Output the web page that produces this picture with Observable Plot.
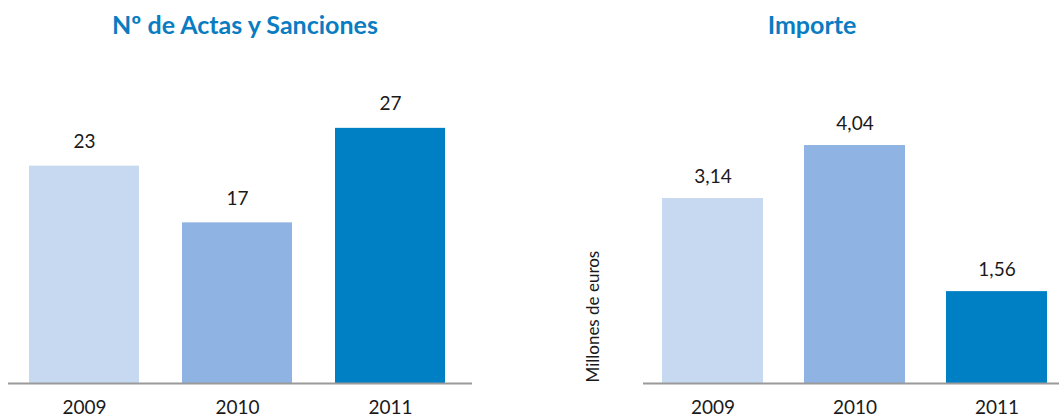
<!DOCTYPE html>
<html>
<head>
<meta charset="utf-8">
<script src="https://cdn.jsdelivr.net/npm/d3@7"></script>
<script src="https://cdn.jsdelivr.net/npm/@observablehq/plot@0.6"></script>
<style>
  body { margin: 0; background: #fff; font-family: Lato, "Open Sans", sans-serif; }
  #wrap { position: relative; width: 1059px; height: 419px; overflow: hidden; }
  .title { position: absolute; top: 9px; font-weight: bold; font-size: 25px; color: #0a7cc1; text-align: center; white-space: nowrap; }
  .panel { position: absolute; top: 0; }
</style>
</head>
<body>
<div id="wrap">
  <div class="panel" id="left" style="left:0px;"></div>
  <div class="panel" id="right" style="left:560px;"></div>
  <div class="title" style="left:45px;width:400px;">Nº de Actas y Sanciones</div>
  <div class="title" style="left:712px;width:200px;">Importe</div>
</div>
<script>
const years = ["2009", "2010", "2011"];
const actas = [23, 17, 27];
const importe = [3.14, 4.04, 1.56];
const barColors = ["#c7d9f0", "#8fb3e2", "#0080c4"];
const yLabel = "Millones de euros";

const leftData = years.map((y, i) => ({year: y, value: actas[i]}));
const rightData = years.map((y, i) => ({year: y, value: importe[i]}));

const common = {
  height: 419,
  marginBottom: 36,
  style: {fontFamily: "Lato, 'Open Sans', sans-serif", fontSize: "19px", color: "#1a1a1a", background: "transparent"},
  color: {domain: years, range: barColors}
};

const leftPlot = Plot.plot({
  ...common,
  width: 480,
  marginLeft: 8,
  marginRight: 8,
  marginTop: 99.5,
  x: {domain: years, paddingInner: 0.28, paddingOuter: 0.156, align: 0.44, label: null},
  y: {domain: [0, 30], axis: null},
  marks: [
    Plot.barY(leftData, {x: "year", y: "value", fill: "year"}),
    Plot.ruleY([0], {stroke: "#9a9a9a", strokeWidth: 2}),
    Plot.text(leftData, {x: "year", y: "value", text: d => String(d.value), dy: -24, fill: "#1a1a1a", fontSize: 19}),
    Plot.axisX({tickSize: 0, tickPadding: 17, label: null, fontSize: 19, fill: "#1a1a1a"})
  ]
});
document.getElementById("left").appendChild(leftPlot);

const rightPlot = Plot.plot({
  ...common,
  width: 499,
  marginLeft: 83,
  marginRight: 0,
  marginTop: 88.5,
  x: {domain: years, paddingInner: 0.286, paddingOuter: 0.1, align: 0.625, label: null},
  y: {domain: [0, 5], axis: null},
  marks: [
    Plot.barY(rightData, {x: "year", y: "value", fill: "year"}),
    Plot.ruleY([0], {stroke: "#9a9a9a", strokeWidth: 2}),
    Plot.text(rightData, {x: "year", y: "value", text: d => d.value.toFixed(2).replace(".", ","), dy: -22, fill: "#1a1a1a", fontSize: 19}),
    Plot.text([yLabel], {frameAnchor: "bottom-left", text: d => d, rotate: -90, textAnchor: "start", dx: -45, dy: -1, fontSize: 17, fill: "#1a1a1a"}),
    Plot.axisX({tickSize: 0, tickPadding: 17, label: null, fontSize: 19, fill: "#1a1a1a"})
  ]
});
document.getElementById("right").appendChild(rightPlot);
</script>
</body>
</html>
